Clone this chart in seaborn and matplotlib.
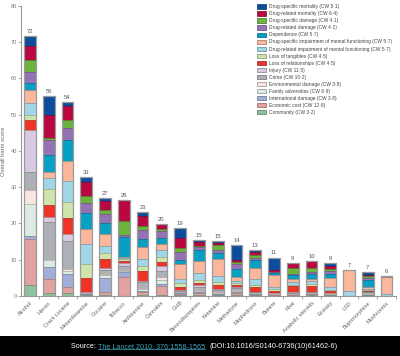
import numpy as np
import pandas as pd
import matplotlib
matplotlib.use("Agg")
import matplotlib.pyplot as plt
import matplotlib.colors as mcolors
from matplotlib.patches import Patch, Rectangle
from matplotlib.lines import Line2D
import seaborn as sns

drugs = ["Alcohol", "Heroin", "Crack cocaine", "Metamfetamine", "Cocaine", "Tobacco",
         "Amfetamine", "Cannabis", "GHB", "Benzodiazepines", "Ketamine", "Methadone",
         "Mephedrone", "Butane", "Khat", "Anabolic steroids", "Ecstasy", "LSD",
         "Buprenorphine", "Mushrooms"]
score_labels = ["72", "55", "54", "33", "27", "26", "23", "20", "19", "15", "15", "14",
                "13", "11", "9", "10", "9", "7", "7", "6"]

# criteria, bottom of stack to top
criteria = ["Community (CW 3·2)", "Economic cost (CW 12·8)", "International damage (CW 3·8)",
            "Family adversities (CW 8·9)", "Environmental damage (CW 3·8)", "Crime (CW 10·2)",
            "Injury (CW 11·5)", "Loss of relationships (CW 4·5)", "Loss of tangibles (CW 4·5)",
            "Drug-related impairment of mental functioning (CW 5·7)",
            "Drug-specific impairment of mental functioning (CW 5·7)", "Dependence (CW 5·7)",
            "Drug-related damage (CW 4·1)", "Drug-specific damage (CW 4·1)",
            "Drug-related mortality (CW 6·4)", "Drug-specific mortality (CW 5·1)"]
colors = ["#8fc0a0", "#e2a29f", "#a1addb", "#dcebe2", "#fae5e2", "#adb1b6", "#d8cae3",
          "#ef3326", "#cfe4ab", "#a0d6e7", "#fbb79b", "#079fc3", "#9572b4", "#6cb33e",
          "#b8083f", "#0b4d9c"]

community        = [3.0, 0.7, 0.7, 0.2, 0.2, 0.1, 0.3, 0.2, 0.2, 0.3, 0.2, 0.3, 0.2, 0.1, 0.1, 0.2, 0.2, 0.0, 0.2, 0.0]
economic_cost    = [12.8, 3.9, 1.8, 0.2, 1.0, 5.2, 0.9, 2.6, 0.3, 0.5, 0.2, 0.6, 0.2, 0.1, 0.2, 0.3, 0.1, 0.05, 0.2, 0.0]
international    = [0.7, 3.3, 3.7, 0.1, 3.8, 1.3, 0.3, 0.5, 0.3, 0.2, 0.2, 0.3, 0.1, 0.05, 0.1, 0.1, 0.1, 0.0, 0.0, 0.0]
family           = [8.9, 2.0, 0.8, 0.1, 0.7, 0.4, 0.3, 1.2, 0.2, 0.4, 0.3, 0.3, 0.1, 0.1, 0.1, 0.1, 0.1, 0.0, 0.0, 0.0]
environmental    = [3.8, 0.4, 0.4, 0.1, 0.5, 0.3, 0.3, 0.7, 0.2, 0.2, 0.2, 0.2, 0.1, 0.1, 0.1, 0.1, 0.05, 0.0, 0.0, 0.0]
crime            = [5.1, 10.2, 7.9, 0.2, 1.1, 0.9, 1.9, 1.8, 0.3, 1.0, 0.5, 0.6, 0.3, 0.15, 0.3, 0.3, 0.1, 0.0, 0.8, 0.0]
injury           = [11.5, 1.2, 1.7, 0.1, 0.3, 1.0, 0.2, 1.3, 0.1, 0.3, 0.2, 0.3, 0.1, 0.1, 0.1, 0.1, 0.05, 0.05, 0.0, 0.0]
loss_relations   = [2.8, 3.5, 4.4, 4.1, 2.7, 0.5, 2.6, 1.2, 1.0, 0.7, 1.1, 0.5, 1.3, 0.7, 1.8, 1.6, 0.6, 0.0, 0.3, 0.0]
loss_tangibles   = [1.2, 4.3, 4.5, 3.6, 1.6, 0.4, 1.4, 1.2, 0.9, 0.7, 1.1, 0.6, 0.6, 0.4, 0.2, 0.4, 0.3, 0.0, 0.1, 0.0]
related_impair   = [3.4, 3.0, 5.7, 5.7, 2.0, 0.5, 2.0, 2.0, 1.1, 2.1, 1.5, 0.4, 1.7, 0.7, 0.9, 0.9, 0.9, 1.3, 0.2, 0.5]
specific_impair  = [3.7, 1.8, 5.7, 4.0, 3.2, 0.2, 3.2, 1.7, 4.1, 3.3, 4.6, 1.1, 2.9, 3.2, 0.8, 0.6, 2.5, 5.7, 0.8, 4.8]
dependence       = [1.8, 4.6, 5.7, 4.4, 2.9, 5.5, 2.4, 1.7, 1.2, 3.0, 1.7, 2.2, 2.3, 0.6, 1.2, 1.3, 1.1, 0.0, 1.8, 0.0]
related_damage   = [3.2, 4.1, 3.4, 2.8, 2.6, 0.5, 2.5, 1.7, 2.1, 0.7, 0.9, 1.5, 0.7, 0.2, 0.3, 0.7, 0.7, 0.0, 0.7, 0.0]
specific_damage  = [3.2, 0.7, 2.0, 2.0, 1.1, 3.8, 1.1, 0.8, 1.2, 0.5, 1.3, 0.4, 0.6, 0.1, 1.6, 0.9, 0.6, 0.0, 0.3, 0.0]
related_mort     = [3.9, 6.3, 3.9, 3.8, 2.4, 5.9, 2.8, 1.3, 2.7, 0.9, 0.7, 0.7, 0.9, 0.5, 1.3, 2.0, 1.0, 0.0, 0.5, 0.1]
specific_mort    = [2.8, 5.1, 1.3, 1.3, 1.0, 0.0, 0.9, 0.0, 2.9, 0.6, 0.4, 4.0, 0.5, 3.5, 0.0, 0.0, 0.6, 0.0, 0.6, 0.0]

layers = [community, economic_cost, international, family, environmental, crime, injury,
          loss_relations, loss_tangibles, related_impair, specific_impair, dependence,
          related_damage, specific_damage, related_mort, specific_mort]


def darker(c, f=0.72):
    r, g, b = mcolors.to_rgb(c)
    return (r * f, g * f, b * f)


sns.set_theme(style="white")
plt.rcParams["font.family"] = ["Liberation Sans", "DejaVu Sans"]

fig = plt.figure(figsize=(4.0, 3.56), dpi=100)
fig.patch.set_facecolor("white")
ax = fig.add_axes([0.0525, 0.1685, 0.9375, 0.815])

df = pd.DataFrame({"drug": drugs})
cum = np.zeros(len(drugs))
for name, vals in zip(criteria, layers):
    cum = cum + np.asarray(vals, dtype=float)
    df[name] = cum.copy()
df["total"] = cum

bar_w = 0.62
for k in reversed(range(len(criteria))):
    sns.barplot(data=df, x="drug", y=criteria[k], order=drugs, color=colors[k],
                saturation=1, edgecolor=darker(colors[k]), linewidth=0.5,
                width=bar_w, errorbar=None, ax=ax)

sns.barplot(data=df, x="drug", y="total", order=drugs, fill=False, color="#9a9a9a",
            linewidth=0.9, width=bar_w, errorbar=None, ax=ax)
ax.bar_label(ax.containers[-1], labels=score_labels, padding=1.5, fontsize=4.2,
             color="#555555")

ax.set_xlim(-0.48, len(drugs) - 0.5)
ax.set_ylim(0, 80)
ax.set_yticks(np.arange(0, 81, 10))
ax.set_xticks(np.arange(len(drugs)) + 0.5, minor=True)
ax.set_xticklabels(drugs, rotation=45, ha="right", rotation_mode="anchor")
ax.tick_params(axis="x", which="major", length=0, labelsize=4.0, labelcolor="#666666", pad=3)
ax.tick_params(axis="x", which="minor", length=2, width=0.6, color="#999999", bottom=True)
ax.tick_params(axis="y", length=2, width=0.6, color="#999999", labelsize=4.0,
               labelcolor="#777777", pad=1, left=True)
ax.set_xlabel("")
ax.set_ylabel("Overall harm score", fontsize=4.2, color="#666666", labelpad=3)
for s in ["top", "right"]:
    ax.spines[s].set_visible(False)
for s in ["left", "bottom"]:
    ax.spines[s].set_color("#999999")
    ax.spines[s].set_linewidth(0.8)

handles = [Patch(facecolor=colors[k], edgecolor=darker(colors[k], 0.6), linewidth=0.5,
                 label=criteria[k]) for k in reversed(range(len(criteria)))]
leg = ax.legend(handles=handles, loc="upper left", bbox_to_anchor=(0.643, 0.988),
                bbox_transform=fig.transFigure, frameon=False, fontsize=3.5,
                handlelength=1.9, handleheight=1.05, labelspacing=0.42,
                handletextpad=0.55, borderpad=0, borderaxespad=0)
for t in leg.get_texts():
    t.set_color("#444444")

# footer band with source line
fig.add_artist(Rectangle((0, 0), 1, 20 / 356, transform=fig.transFigure,
                         facecolor="black", edgecolor="none", zorder=0))
fig.canvas.draw()
renderer = fig.canvas.get_renderer()
y_src = 9 / 356
fs = 5.2
t1 = fig.text(71 / 400, y_src, "Source: ", color="white", fontsize=fs, va="center", ha="left")
bb1 = t1.get_window_extent(renderer)
x2 = bb1.x1 / fig.bbox.width
t2 = fig.text(x2, y_src, "The Lancet 2010; 376:1558-1565", color="#3aa6b9", fontsize=fs,
              va="center", ha="left")
bb2 = t2.get_window_extent(renderer)
x3 = (bb2.x1 + 5) / fig.bbox.width
fig.add_artist(Line2D([bb2.x0 / fig.bbox.width, bb2.x1 / fig.bbox.width],
                      [(bb2.y0 + 1.2) / fig.bbox.height] * 2, color="#3aa6b9", lw=0.5,
                      transform=fig.transFigure))
fig.text(x3, y_src, "(DOI:10.1016/S0140-6736(10)61462-6)", color="white", fontsize=fs,
         va="center", ha="left")

fig.savefig("out.png", dpi=100, facecolor="white")
